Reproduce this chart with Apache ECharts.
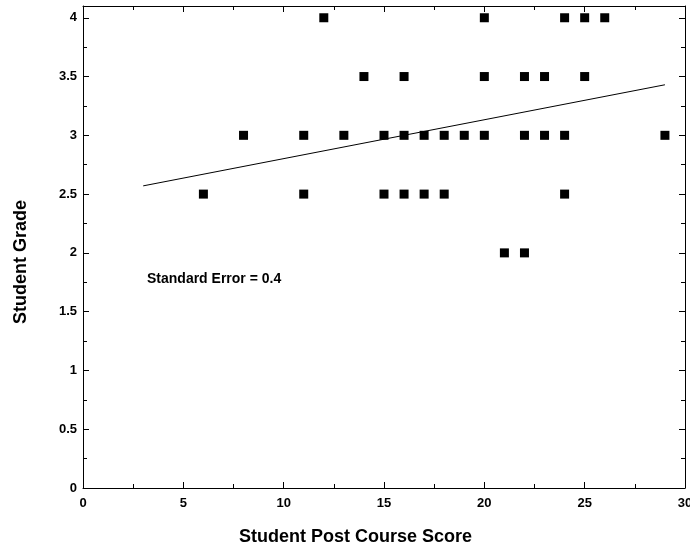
<!DOCTYPE html>
<html>
<head>
<meta charset="utf-8">
<script src="https://cdn.jsdelivr.net/npm/echarts@6/dist/echarts.min.js"></script>
<style>
  html, body { margin: 0; padding: 0; background: #fff; }
  #chart { width: 690px; height: 546px; }
</style>
</head>
<body>
<div id="chart"></div>
<script>
// scores and grades, one pair per student
const postScores = [
  12, 20, 24, 25, 26,
  14, 16, 20, 22, 23, 25,
  8, 11, 13, 15, 16, 17, 18, 19, 20, 22, 23, 24, 29,
  6, 11, 15, 16, 17, 18, 24,
  21, 22
]
const grades = [
  4, 4, 4, 4, 4,
  3.5, 3.5, 3.5, 3.5, 3.5, 3.5,
  3, 3, 3, 3, 3, 3, 3, 3, 3, 3, 3, 3, 3,
  2.5, 2.5, 2.5, 2.5, 2.5, 2.5, 2.5,
  2, 2
]
// regression line end points
const fitX = [3, 29]
const fitY = [2.57, 3.43]
const stdErrorLabel = 'Standard Error = 0.4'

const font = 'Arial, "Liberation Sans", Helvetica, sans-serif'
const black = '#000'

const chart = echarts.init(document.getElementById('chart'))

const frameAxis = {
  min: 0,
  axisLine: { show: true, onZero: false, lineStyle: { color: black, width: 1 } },
  axisTick: { show: true, inside: true, length: 6, lineStyle: { color: black } },
  minorTick: { show: true, splitNumber: 2, length: 4, lineStyle: { color: black } },
  splitLine: { show: false },
  minorSplitLine: { show: false },
}

const option = {
  animation: false,
  backgroundColor: '#fff',
  grid: {
    left: 83, right: 5, top: 6, bottom: 58,
    containLabel: false,
    outerBoundsMode: 'none',
  },
  xAxis: [
    {
      ...frameAxis,
      type: 'value',
      position: 'bottom',
      max: 30,
      interval: 5,
      name: 'Student Post Course Score',
      nameLocation: 'middle',
      nameGap: 40,
      nameTextStyle: {
        fontFamily: font, fontWeight: 'bold', fontSize: 18, color: black,
        padding: [0, 57, 0, 0],
      },
      axisLabel: {
        fontFamily: font, fontWeight: 'bold', fontSize: 13, color: black, margin: 9,
      },
    },
    {
      ...frameAxis,
      type: 'value',
      position: 'top',
      max: 30,
      interval: 5,
      axisLabel: { show: false },
    },
  ],
  yAxis: [
    {
      ...frameAxis,
      type: 'value',
      position: 'left',
      max: 4.1,
      interval: 0.5,
      name: 'Student Grade',
      nameLocation: 'middle',
      nameGap: 53,
      nameTextStyle: {
        fontFamily: font, fontWeight: 'bold', fontSize: 18, color: black,
        padding: [0, 30, 0, 0],
      },
      axisLabel: {
        fontFamily: font, fontWeight: 'bold', fontSize: 13, color: black, margin: 6,
        showMaxLabel: false,
        formatter: (v) => (v > 4 ? '' : String(v)),
      },
    },
    {
      ...frameAxis,
      type: 'value',
      position: 'right',
      max: 4.1,
      interval: 0.5,
      axisLabel: { show: false },
    },
  ],
  graphic: [
    {
      type: 'text',
      left: 147,
      top: 272,
      style: {
        text: stdErrorLabel,
        fontFamily: font, fontWeight: 'bold', fontSize: 14, fill: black,
      },
    },
  ],
  series: [
    {
      type: 'line',
      data: fitX.map((x, i) => [x, fitY[i]]),
      symbol: 'none',
      lineStyle: { color: black, width: 1 },
      silent: true,
      z: 2,
    },
    {
      type: 'scatter',
      data: postScores.map((x, i) => [x, grades[i]]),
      symbol: 'rect',
      symbolSize: 9,
      itemStyle: { color: black, opacity: 1 },
      z: 3,
    },
  ],
}

chart.setOption(option)
</script>
</body>
</html>
